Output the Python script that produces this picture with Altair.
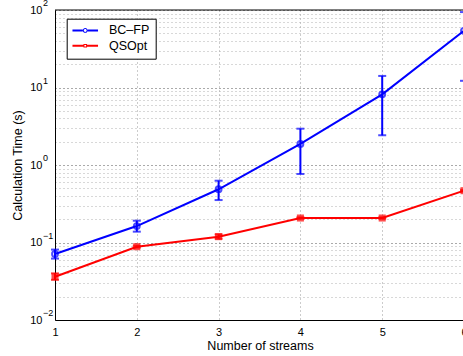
import altair as alt
import pandas as pd

# ---- data ----
streams = [1, 2, 3, 4, 5, 6]
series_names = ["BC–FP", "QSOpt"]
bcfp_time = [0.071, 0.163, 0.486, 1.87, 8.17, 53.9]
bcfp_low = [0.062, 0.138, 0.353, 0.766, 2.42, 12.2]
bcfp_high = [0.081, 0.191, 0.627, 2.94, 14.1, 94.0]
qsopt_time = [0.0362, 0.0883, 0.119, 0.207, 0.207, 0.466]
qsopt_low = [0.033, 0.086, 0.112, 0.203, 0.203, 0.455]
qsopt_high = [0.040, 0.091, 0.127, 0.211, 0.211, 0.477]

decades = [0.01, 0.1, 1.0, 10.0, 100.0]
exponents = ["−2", "−1", "0", "1", "2"]
minor_mult = [1, 2, 3, 4, 5, 6, 7, 8, 9]
y_ticks = [m * d for d in decades[:-1] for m in minor_mult] + [decades[-1]]

FONT = "Liberation Sans"
Y_TITLE = "Calculation Time (s)"

rows = []
for name, t, lo, hi in [
    (series_names[0], bcfp_time, bcfp_low, bcfp_high),
    (series_names[1], qsopt_time, qsopt_low, qsopt_high),
]:
    for s, a, b, c in zip(streams, t, lo, hi):
        rows.append({"streams": s, "series": name, "time": a, "low": b, "high": c})
df = pd.DataFrame(rows)
exp_df = pd.DataFrame({"decade": decades, "exp": exponents})
frame_df = pd.DataFrame({"top": [decades[-1]]})

major_test = "abs(log(datum.value)/LN10 - round(log(datum.value)/LN10)) < 1e-6"

x_scale = alt.Scale(domain=[1, 6], range=[0, 409], nice=False, zero=False)
y_scale = alt.Scale(type="log", domain=[0.01, 100], nice=False)

x_axis = alt.Axis(
    values=streams, format="d", grid=True, gridDash=[1, 3], gridColor="#999999",
    ticks=False, tickSize=0, domainColor="black", labelColor="black",
    labelFontSize=11, labelBaseline="alphabetic", labelPadding=15.7,
    labelFlush=False, labelOverlap=False,
    titleFontSize=12.5, titleX=205, titleY=29, titleBaseline="alphabetic",
    titleColor="black", titleFontWeight="normal",
)
y_axis = alt.Axis(
    values=y_ticks, labelExpr=f"({major_test}) ? '10' : ''",
    grid=True, gridDash=[1, 3],
    gridColor={"condition": {"test": major_test, "value": "#555555"}, "value": "#b0b0b0"},
    ticks=False, tickSize=0, domainColor="black", labelColor="black",
    labelFontSize=11, labelBaseline="middle", labelPadding=13, labelOverlap=False,
    labelFlush=False,
    titleFontSize=12.5, titleX=-37.5, titleY=155, titleBaseline="middle",
    titleAlign="center", titleColor="black", titleFontWeight="normal",
)


def Yf(field):
    return alt.Y(field, scale=y_scale, axis=y_axis, title=Y_TITLE)


X = alt.X("streams:Q", scale=x_scale, axis=x_axis, title="Number of streams")
Y = Yf("time:Q")
color_range = ["#0000ff", "#ff0000"]
S = alt.Stroke("series:N", scale=alt.Scale(domain=series_names, range=color_range), legend=None)
F = alt.Fill("series:N", scale=alt.Scale(domain=series_names, range=color_range), legend=None)

base = alt.Chart(df)

lines = base.mark_line(strokeWidth=2).encode(x=X, y=Y, stroke=S)
err = base.mark_rule(strokeWidth=2).encode(x=X, y=Yf("low:Q"), y2="high:Q", stroke=S)
cap_lo = base.mark_tick(orient="horizontal", size=8, thickness=2).encode(
    x=X, y=Yf("low:Q"), fill=F)
cap_hi = base.mark_tick(orient="horizontal", size=8, thickness=2).encode(
    x=X, y=Yf("high:Q"), fill=F)
circles = base.transform_filter(alt.datum.series == series_names[0]).mark_point(
    shape="circle", filled=False, size=34, strokeWidth=2).encode(x=X, y=Y, stroke=S)
squares = base.transform_filter(alt.datum.series == series_names[1]).mark_point(
    shape="square", filled=True, size=50).encode(x=X, y=Y, fill=F)

# legend symbols (filled outlines): line segments + thin ring marker
line_bars = ("M-2.13,-0.17H-0.4V0.17H-2.13Z"
             "M0.4,-0.17H2.13V0.17H0.4Z")
path_circle = (line_bars +
               "M-0.4,0A0.4,0.4 0 1,1 0.4,0A0.4,0.4 0 1,1 -0.4,0Z"
               "M-0.24,0A0.24,0.24 0 1,0 0.24,0A0.24,0.24 0 1,0 -0.24,0Z")
line_bars_sq = ("M-2.13,-0.17H-0.3V0.17H-2.13Z"
                "M0.3,-0.17H2.13V0.17H0.3Z")
path_square = (line_bars_sq +
               "M-0.3,-0.3H0.3V0.3H-0.3Z"
               "M-0.14,-0.14V0.14H0.14V-0.14Z")
leg = dict(
    title=None, orient="none", legendX=11.7, legendY=8.7,
    strokeColor="black", fillColor="white", padding=5.5, cornerRadius=0,
    symbolSize=144, symbolStrokeWidth=0, symbolOffset=6.8, symbolOpacity=1,
    labelOffset=17.5, labelFont=FONT, labelFontSize=12.5, labelColor="black",
    rowPadding=2.3,
)
legend_layer = base.mark_point(opacity=0, filled=True).encode(
    x=X, y=Y,
    color=alt.Color("series:N", scale=alt.Scale(domain=series_names, range=color_range),
                    legend=alt.Legend(**leg)),
    shape=alt.Shape("series:N",
                    scale=alt.Scale(domain=series_names, range=[path_circle, path_square]),
                    legend=alt.Legend(**leg)),
)

exp_text = alt.Chart(exp_df).mark_text(
    align="left", baseline="middle", fontSize=9, dy=-7, font=FONT, color="black"
).encode(
    y=Yf("decade:Q"),
    x=alt.value(-12),
    text="exp:N",
)

top_frame = alt.Chart(frame_df).mark_rule(color="black", strokeWidth=1).encode(
    y=Yf("top:Q")
)

chart = alt.layer(
    legend_layer, lines, err, cap_lo, cap_hi, circles, squares, exp_text, top_frame
).properties(
    width=408, height=310,
    autosize=alt.AutoSizeParams(type="none"),
    padding={"left": 55, "top": 10, "right": 0, "bottom": 36},
).configure(font=FONT).configure_view(stroke=None).configure_axis(
    labelFont=FONT, titleFont=FONT
)

chart.save("out.html", embed_options={"renderer": "svg", "actions": False})
